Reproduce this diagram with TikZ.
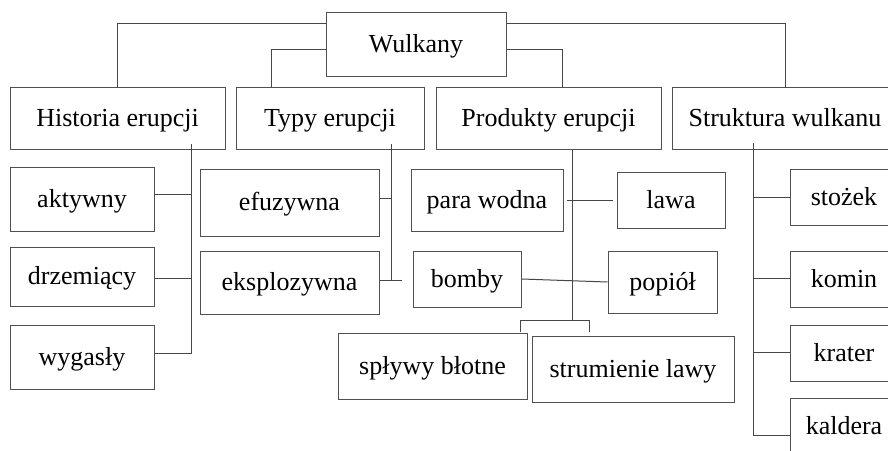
\documentclass[tikz,border=0pt]{standalone}
\usepackage{fontspec}
\setmainfont{Liberation Serif}
\begin{document}
\begin{tikzpicture}[x=1pt,y=-1pt,
  box/.style={draw=boxgray, line width=1pt, inner sep=0pt, anchor=center,
              font=\fontsize{26}{30}\selectfont, text height=20pt, text depth=4pt},
  link/.style={draw=linegray, line width=1pt}]
\definecolor{boxgray}{RGB}{80,80,80}
\definecolor{linegray}{RGB}{70,70,70}
\useasboundingbox (0,0) rectangle (888,450);
\clip (0,0) rectangle (888,450);
\fill[white] (0,0) rectangle (888,450);

% root and first level
\node[box, minimum width=180pt, minimum height=64pt] (wulk) at (416,44) {Wulkany};
\node[box, minimum width=215pt, minimum height=62pt] (hist) at (117.5,118) {Historia erupcji};
\node[box, minimum width=188pt, minimum height=62pt] (typy) at (330,118) {Typy erupcji};
\node[box, minimum width=225pt, minimum height=62pt] (prod) at (548.5,118) {Produkty erupcji};
\node[box, minimum width=226pt, minimum height=62pt] (strk) at (785,118) {Struktura wulkanu};

% history of eruptions
\node[box, minimum width=144pt, minimum height=64pt] (akt) at (82,199) {aktywny};
\node[box, minimum width=144pt, minimum height=59pt] (drz) at (82,276.5) {drzemiący};
\node[box, minimum width=144pt, minimum height=64pt] (wyg) at (82,357) {wygasły};

% types of eruptions
\node[box, minimum width=179pt, minimum height=67pt] (efu) at (289.5,202.5) {efuzywna};
\node[box, minimum width=179pt, minimum height=63pt] (eks) at (289.5,282.5) {eksplozywna};

% products of eruptions
\node[box, minimum width=152pt, minimum height=62pt] (para) at (487,200) {para wodna};
\node[box, minimum width=108pt, minimum height=56pt] (lawa) at (671,200) {lawa};
\node[box, minimum width=108pt, minimum height=56pt] (bomb) at (467,279) {bomby};
\node[box, minimum width=109pt, minimum height=62pt] (popi) at (662.5,282) {popiół};
\node[box, minimum width=189pt, minimum height=66pt] (sply) at (432.5,366) {spływy błotne};
\node[box, minimum width=202pt, minimum height=66pt] (stru) at (633,369) {strumienie lawy};

% structure of a volcano
\node[box, minimum width=108pt, minimum height=56pt] (stoz) at (844,197) {stożek};
\node[box, minimum width=108pt, minimum height=56pt] (komi) at (844,279) {komin};
\node[box, minimum width=108pt, minimum height=56pt] (krat) at (844,353) {krater};
\node[box, minimum width=108pt, minimum height=56pt] (kald) at (844,426) {kaldera};

% junction points
\coordinate (jH) at (117,23);
\coordinate (jT) at (271,49);
\coordinate (jP) at (562,49);
\coordinate (jS) at (785,23);
\coordinate (hT) at (191,144);
\coordinate (hA) at (191,194);
\coordinate (hD) at (191,278);
\coordinate (hW) at (191,353);
\coordinate (tT) at (391,144);
\coordinate (tF) at (391,198);
\coordinate (tE) at (402,280);
\coordinate (pT) at (572.5,150);
\coordinate (pB) at (572.5,320);
\coordinate (pL) at (520,320);
\coordinate (pR) at (589,320);
\coordinate (pLd) at (520,332);
\coordinate (pRd) at (589,332);
\coordinate (sT) at (753,143);
\coordinate (sA) at (753,197);
\coordinate (sB) at (753,278);
\coordinate (sC) at (753,352);
\coordinate (sD) at (753,435);

% root to first level
\draw[link] (wulk.west |- jH) -- (jH) -- (hist.north -| jH);
\draw[link] (wulk.west |- jT) -- (jT) -- (typy.north -| jT);
\draw[link] (wulk.east |- jP) -- (jP) -- (prod.north -| jP);
\draw[link] (wulk.east |- jS) -- (jS) -- (strk.north -| jS);

% history branch
\draw[link] (hT) -- (hW) -- (wyg.east |- hW);
\draw[link] (akt.east |- hA) -- (hA);
\draw[link] (drz.east |- hD) -- (hD);

% types branch
\draw[link] (tT) -- (tT |- tE);
\draw[link] (efu.east |- tF) -- (tF);
\draw[link] (eks.east |- tE) -- (tE);

% products branch
\draw[link] (pT) -- (pB);
\draw[link] (pLd) -- (pL) -- (pR) -- (pRd);
\draw[link, shorten <=3pt, shorten >=4pt] (para.east) -- (lawa.west);
\draw[link] (bomb.east) -- (popi.west);

% structure branch
\draw[link] (sT) -- (sD) -- (kald.west |- sD);
\draw[link] (sA) -- (stoz.west |- sA);
\draw[link] (sB) -- (komi.west |- sB);
\draw[link] (sC) -- (krat.west |- sC);
\end{tikzpicture}
\end{document}
